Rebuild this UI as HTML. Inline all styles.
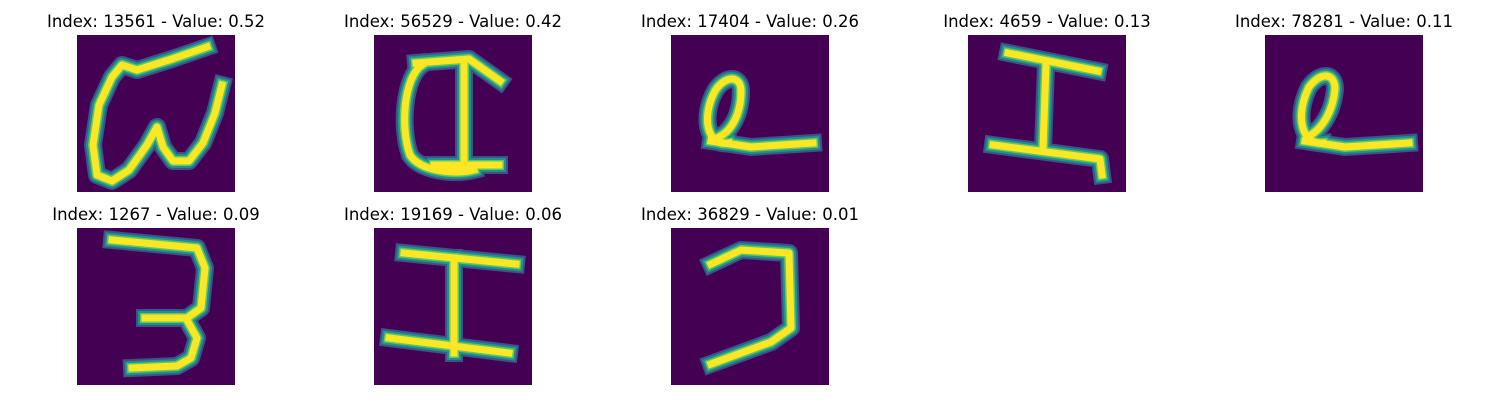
<!DOCTYPE html>
<html><head><meta charset="utf-8"><style>
html,body{margin:0;padding:0;background:#fff;}
body{width:1500px;height:400px;position:relative;overflow:hidden;font-family:"DejaVu Sans","Liberation Sans",sans-serif;}
.t{position:absolute;font-size:16.5px;color:#000;text-align:center;width:300px;white-space:nowrap;font-family:"DejaVu Sans","Liberation Sans",sans-serif;}
svg.p{position:absolute;width:158px;height:157px;}
</style></head><body>
<div id="root"></div>
<script>
const indices=[13561,56529,17404,4659,78281,1267,19169,36829];
const values=["0.52","0.42","0.26","0.13","0.11","0.09","0.06","0.01"];
const glyphs=[
["M130,12 L95,24 L60,35 L45,30 L35,42 L22,70 L16,110 L20,140 L35,146 L52,135 L70,110 L80,92 L86,112 L96,126 L112,126 L126,108 L138,78 L145,50"],
["M48,30 C30,42 26,92 36,120 C46,136 80,140 100,135","M42,28 L95,24 L126,46","M90,30 L90,130","M60,130 L125,130"],
["M58,108 C36,112 30,82 44,56 C54,40 70,40 70,56 C70,80 60,96 48,102","M40,106 L80,112 L142,108"],
["M40,18 L130,36","M78,30 L75,114","M25,110 L132,124 L134,140"],
["M58,108 C36,110 30,80 44,52 C56,36 70,38 70,54 C68,76 58,92 46,100","M40,106 L80,112 L144,108"],
["M35,12 L120,20 L128,40 L124,80 L110,90 L68,90","M110,92 L120,110 L114,130 L100,138 L55,140"],
["M30,25 L142,36","M80,30 L80,125","M15,110 L135,125"],
["M40,36 L70,22 L118,25 L120,100 L100,114 L40,136"]
];
const xs=[77,374,671,968,1265];
const ys=[35,228];
const root=document.getElementById('root');
const NS="http://www.w3.org/2000/svg";
for(let i=0;i<indices.length;i++){
  const col=i%5,row=Math.floor(i/5);
  const x=xs[col],y=ys[row];
  const t=document.createElement('div');
  t.className='t';
  
  
  t.style.left=(x+79-150)+'px';t.style.top=(y-23)+'px';
  t.textContent='Index: '+indices[i]+' - Value: '+values[i];
  root.appendChild(t);
  const s=document.createElementNS(NS,'svg');
  s.setAttribute('class','p');
  
  
  s.setAttribute('viewBox','0 0 158 157');
  s.style.left=x+'px';s.style.top=y+'px';
  const bg=document.createElementNS(NS,'rect');
  bg.setAttribute('width','158');bg.setAttribute('height','157');bg.setAttribute('fill','#440154');
  
  
  s.appendChild(bg);
  const layers=[['#3b528b',18],['#21918c',14],['#5ec962',10],['#fde725',7]];
  for(const [c,w] of layers){
    for(const d of glyphs[i]){
      const p=document.createElementNS(NS,'path');
      p.setAttribute('d',d);p.setAttribute('fill','none');p.setAttribute('stroke',c);
      p.setAttribute('stroke-width',w);p.setAttribute('stroke-linecap','square');p.setAttribute('stroke-linejoin','round');
      
      
      s.appendChild(p);
    }
  }
  root.appendChild(s);
}
</script>
</body></html>
